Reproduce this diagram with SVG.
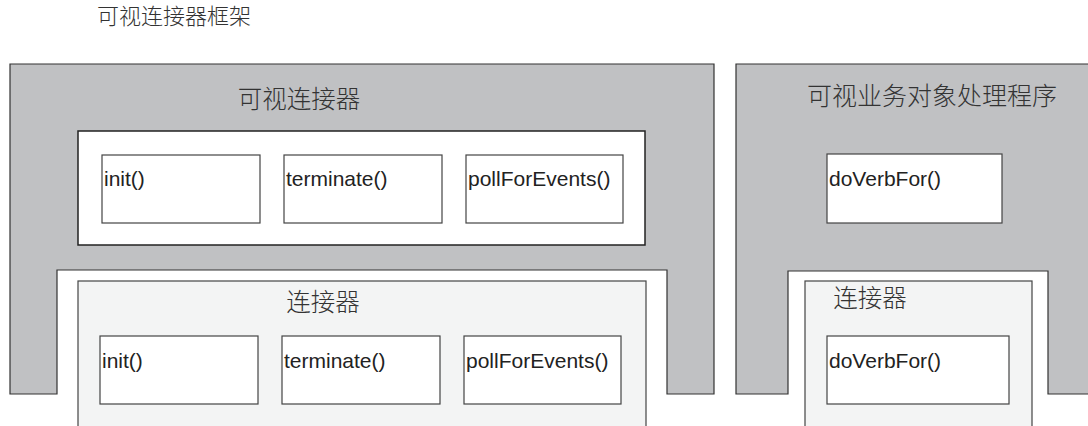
<svg xmlns="http://www.w3.org/2000/svg" width="1088" height="426" viewBox="0 0 1088 426">
<style>
.frame{fill:#c0c1c3;stroke:#333;stroke-width:1.2}
.inner{fill:#fff;stroke:#222;stroke-width:1.5}
.conn{fill:#f3f4f4;stroke:#444;stroke-width:1.2}
.m{fill:#fff;stroke:#444;stroke-width:1.2}
.cn{font-family:"Noto Sans CJK SC","Noto Sans CJK JP",sans-serif;font-weight:300;fill:#333}
.t{font-family:"Liberation Sans",Arial,sans-serif;font-size:21px;fill:#222}
</style>
<rect width="1088" height="426" fill="#fff"/>
<text class="cn" x="97" y="24" font-size="22">可视连接器框架</text>
<g id="visual-connector">
<path class="frame" d="M10,64 H714 V394 H667 V270 H57 V394 H10 Z"/>
<text class="cn" x="299" y="108" font-size="24.5" text-anchor="middle">可视连接器</text>
<rect class="inner" x="78" y="131" width="567" height="114"/>
<g id="v-init"><rect class="m" x="102" y="155" width="158" height="68"/><text class="t" x="104" y="186">init()</text></g>
<g id="v-terminate"><rect class="m" x="284" y="155" width="158" height="68"/><text class="t" x="286" y="186">terminate()</text></g>
<g id="v-poll"><rect class="m" x="466" y="155" width="157" height="68"/><text class="t" x="468" y="186">pollForEvents()</text></g>
</g>
<g id="connector">
<rect class="conn" x="78" y="281" width="568" height="160"/>
<text class="cn" x="323" y="311" font-size="24.5" text-anchor="middle">连接器</text>
<g id="c-init"><rect class="m" x="100" y="336" width="158" height="68"/><text class="t" x="102" y="368">init()</text></g>
<g id="c-terminate"><rect class="m" x="282" y="336" width="158" height="68"/><text class="t" x="284" y="368">terminate()</text></g>
<g id="c-poll"><rect class="m" x="464" y="336" width="157" height="68"/><text class="t" x="466" y="368">pollForEvents()</text></g>
</g>
<g id="visual-bo-handler">
<path class="frame" d="M736,64 H1095 V394 H1048 V271 H788 V394 H736 Z"/>
<text class="cn" x="932" y="105" font-size="25" text-anchor="middle">可视业务对象处理程序</text>
<g id="v-doverb"><rect class="m" x="827" y="154" width="175" height="69"/><text class="t" x="829" y="186">doVerbFor()</text></g>
</g>
<g id="bo-connector">
<rect class="conn" x="805" y="281" width="227" height="160"/>
<text class="cn" x="870" y="307" font-size="24.5" text-anchor="middle">连接器</text>
<g id="c-doverb"><rect class="m" x="827" y="336" width="182" height="68"/><text class="t" x="829" y="368">doVerbFor()</text></g>
</g>
<g id="connectors"/>
</svg>
